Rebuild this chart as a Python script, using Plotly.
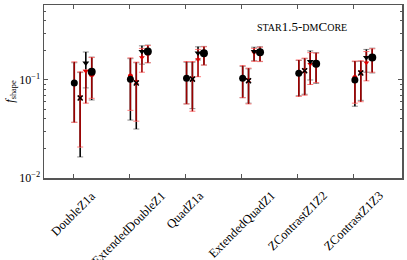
import plotly.graph_objects as go

categories = ["DoubleZ1a", "ExtendedDoubleZ1", "QuadZ1a", "ExtendedQuadZ1", "ZContrastZ1Z2", "ZContrastZ1Z3"]

# black series (value, lower, upper)
circ_k = [0.093, 0.102, 0.104, 0.104, 0.117, 0.100]
circ_k_lo = [0.037, 0.039, 0.057, 0.066, 0.069, 0.054]
circ_k_hi = [0.150, 0.165, 0.152, 0.138, 0.158, 0.154]
cross_k = [0.0655, 0.093, 0.102, 0.098, 0.124, 0.118]
cross_k_lo = [0.0164, 0.0316, 0.051, 0.058, 0.0715, 0.062]
cross_k_hi = [0.119, 0.150, 0.152, 0.130, 0.165, 0.155]
tri_k = [0.149, 0.195, 0.189, 0.195, 0.154, 0.170]
tri_k_lo = [0.083, 0.145, 0.160, 0.157, 0.100, 0.120]
tri_k_hi = [0.193, 0.223, 0.218, 0.216, 0.198, 0.205]
big_k = [0.121, 0.195, 0.187, 0.192, 0.146, 0.170]
big_k_lo = [0.0625, 0.150, 0.142, 0.154, 0.0925, 0.118]
big_k_hi = [0.171, 0.227, 0.220, 0.218, 0.190, 0.211]

# red series (value, lower, upper)
circ_r = [0.095, 0.110, 0.106, 0.105, 0.118, 0.106]
circ_r_lo = [0.037, 0.049, 0.057, 0.066, 0.068, 0.058]
circ_r_hi = [0.153, 0.168, 0.154, 0.140, 0.160, 0.156]
cross_r = [0.066, 0.095, 0.103, 0.099, 0.125, 0.119]
cross_r_lo = [0.0207, 0.038, 0.048, 0.057, 0.070, 0.060]
cross_r_hi = [0.121, 0.152, 0.154, 0.132, 0.167, 0.157]
tri_r = [0.123, 0.170, 0.162, 0.190, 0.145, 0.150]
tri_r_lo = [0.058, 0.120, 0.108, 0.155, 0.090, 0.098]
tri_r_hi = [0.127, 0.210, 0.205, 0.210, 0.190, 0.195]
big_r = [0.115, 0.190, 0.185, 0.190, 0.144, 0.168]
big_r_lo = [0.065, 0.150, 0.142, 0.155, 0.094, 0.120]
big_r_hi = [0.170, 0.225, 0.218, 0.216, 0.188, 0.208]

idx = list(range(len(categories)))
FONT = "Liberation Serif"

fig = go.Figure()

def errs(v, lo, hi):
    return ([h - a for a, h in zip(v, hi)], [a - l for a, l in zip(v, lo)])

series = [
    ("circle", 0.02, circ_k, circ_k_lo, circ_k_hi, circ_r, circ_r_lo, circ_r_hi, 7, 5),
    ("x-thin", 0.125, cross_k, cross_k_lo, cross_k_hi, cross_r, cross_r_lo, cross_r_hi, 5, 4),
    ("triangle-down", 0.225, tri_k, tri_k_lo, tri_k_hi, tri_r, tri_r_lo, tri_r_hi, 6, 5),
    ("circle", 0.33, big_k, big_k_lo, big_k_hi, big_r, big_r_lo, big_r_hi, 8, 6),
]

def err_traces(x, v, lo, hi, capcol, linecol):
    up, dn = errs(v, lo, hi)
    fig.add_trace(go.Scatter(x=x, y=v, mode="markers", marker=dict(size=1, opacity=0),
                             error_y=dict(type="data", symmetric=False, array=up, arrayminus=dn,
                                          color=capcol, thickness=1.0, width=3),
                             showlegend=False, hoverinfo="skip"))
    fig.add_trace(go.Scatter(x=x, y=v, mode="markers", marker=dict(size=1, opacity=0),
                             error_y=dict(type="data", symmetric=False, array=up, arrayminus=dn,
                                          color=linecol, thickness=1.5, width=0),
                             showlegend=False, hoverinfo="skip"))

def marker_trace(x, v, sym, size, col):
    if sym == "x-thin":
        mk = dict(symbol=sym, size=size, line=dict(color=col, width=1.5), color=col)
    else:
        mk = dict(symbol=sym, size=size, color=col, line=dict(width=0))
    fig.add_trace(go.Scatter(x=x, y=v, mode="markers", marker=mk, showlegend=False))

for sym, off, vk, lk, hk, vr, lr, hr, sk, sr in series:
    x = [i + off for i in idx]
    err_traces(x, vk, lk, hk, "#8c8c8c", "#000000")
for sym, off, vk, lk, hk, vr, lr, hr, sk, sr in series:
    x = [i + off for i in idx]
    err_traces(x, vr, lr, hr, "#ff7a7a", "#9a0000")
for sym, off, vk, lk, hk, vr, lr, hr, sk, sr in series:
    x = [i + off for i in idx]
    marker_trace(x, vr, sym, sr, "#e00000")
for sym, off, vk, lk, hk, vr, lr, hr, sk, sr in series:
    x = [i + off for i in idx]
    marker_trace(x, vk, sym, sk, "#000000")

small = 'style="font-size:10px"'
title = ('<span %s>STAR</span>1.5-<span %s>DM</span>C<span %s>ORE</span>' % (small, small, small))
fig.add_annotation(text=title, xref="paper", yref="paper", x=0.72, y=0.875,
                   xanchor="center", yanchor="middle",
                   showarrow=False, font=dict(family=FONT, size=13, color="#000"))

# category labels, rotated and centred under each tick
for i, name in zip(idx, categories):
    fig.add_annotation(text=name, x=i, xref="x", y=0, yref="paper", yshift=-8,
                       xanchor="center", yanchor="top", textangle=-45, showarrow=False,
                       font=dict(family=FONT, size=12.5, color="#000"))

minor_vals = [k * 10 ** e for e in (-2, -1) for k in range(2, 10)]
fig.update_layout(
    width=407, height=260,
    margin=dict(l=44, r=5, t=5, b=82),
    paper_bgcolor="white", plot_bgcolor="white",
    hovermode=False,
    font=dict(family=FONT, size=12, color="#000"),
    xaxis=dict(range=[-0.52, 5.86], tickmode="array", tickvals=idx, showticklabels=False,
               ticks="inside", ticklen=4, tickcolor="#555", showgrid=False,
               zeroline=False, showline=True, linecolor="#555", linewidth=1.5, mirror="ticks",
               automargin=False),
    yaxis=dict(type="log", range=[-2, -0.235], tickmode="array", tickvals=[0.01, 0.1],
               ticktext=["10<sup>−2</sup>", "10<sup>−1</sup>"], ticks="inside", ticklen=4,
               tickcolor="#555", showgrid=False, zeroline=False, showline=True,
               linecolor="#555", linewidth=1.5, mirror="ticks", automargin=False,
               minor=dict(tickmode="array", tickvals=minor_vals, ticks="inside", ticklen=2,
                          tickcolor="#555"),
               title=dict(text="<i>f</i><sub>shape</sub>", standoff=2,
                          font=dict(family=FONT, size=12, color="#000")),
               tickfont=dict(family=FONT, size=12, color="#000")),
)

fig.write_html("out.html", config={"staticPlot": True, "displayModeBar": False},
               post_script="document.body.style.margin='0';")
